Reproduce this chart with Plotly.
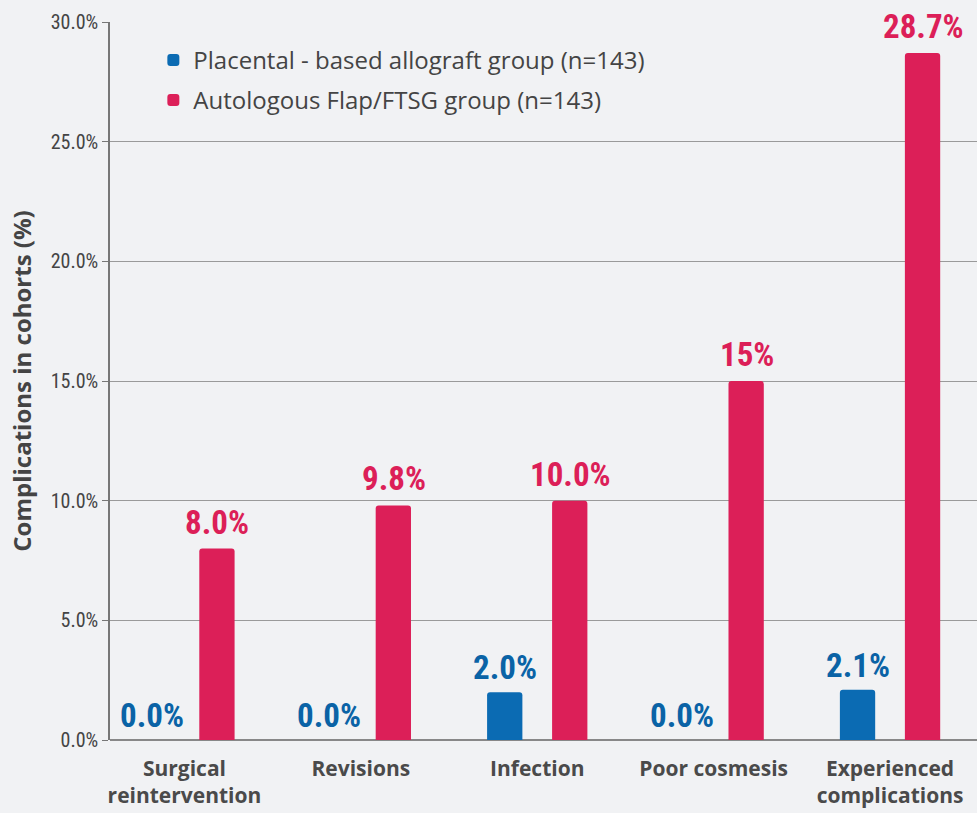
import plotly.graph_objects as go

categories = ["Surgical<br>reintervention", "Revisions", "Infection", "Poor cosmesis", "Experienced<br>complications"]
placental = [0.0, 0.0, 2.0, 0.0, 2.1]
autologous = [8.0, 9.8, 10.0, 15.0, 28.7]
placental_labels = ["0.0%", "0.0%", "2.0%", "0.0%", "2.1%"]
autologous_labels = ["8.0%", "9.8%", "10.0%", "15%", "28.7%"]
tick_vals = [0, 5, 10, 15, 20, 25, 30]
tick_text = ["0.0%", "5.0%", "10.0%", "15.0%", "20.0%", "25.0%", "30.0%"]

BG = "#f1f2f4"
BLUE = "#0b6bb3"
RED = "#dc1f58"
BLUE_TXT = "#0a63a6"
RED_TXT = "#dc1f58"
NARROW = "Liberation Sans Narrow, Roboto Condensed, Roboto, sans-serif"

xs = list(range(len(categories)))

fig = go.Figure()
fig.add_trace(go.Bar(x=xs, y=placental, name="Placental - based allograft group (n=143)",
                     legendgroup="a",
                     marker=dict(color=BLUE, cornerradius=3, line=dict(width=0))))
fig.add_trace(go.Bar(x=xs, y=autologous, name="Autologous Flap/FTSG group (n=143)",
                     legendgroup="b",
                     marker=dict(color=RED, cornerradius=3, line=dict(width=0))))

annotations = []
for i, (v, t) in enumerate(zip(placental, placental_labels)):
    annotations.append(dict(x=xs[i], y=v, text="<b>%s</b>" % t, showarrow=False, xshift=-32,
                            yanchor="bottom", yshift=4, font=dict(family=NARROW, size=33, color=BLUE_TXT),
                            bgcolor=BG, borderpad=0))
for i, (v, t) in enumerate(zip(autologous, autologous_labels)):
    annotations.append(dict(x=xs[i], y=v, text="<b>%s</b>" % t, showarrow=False, xshift=33,
                            yanchor="bottom", yshift=6, font=dict(family=NARROW, size=33, color=RED_TXT),
                            bgcolor=BG, borderpad=0))

fig.update_layout(
    width=977, height=813,
    paper_bgcolor=BG, plot_bgcolor=BG,
    margin=dict(l=110, r=0, t=22, b=73),
    barmode="group", bargap=0.263, bargroupgap=0.457,
    font=dict(family="Open Sans, sans-serif", color="#444444"),
    legend=dict(x=0.05, y=0.978, xanchor="left", yanchor="top", bgcolor="rgba(0,0,0,0)",
                font=dict(size=24, color="#444444"), tracegroupgap=6, itemwidth=30),
    annotations=annotations,
    showlegend=True,
)
fig.update_xaxes(range=[-0.422, 4.493], tickvals=xs, ticktext=["<b>%s</b>" % c for c in categories],
                 tickfont=dict(size=21, color="#4a4a4a"), showgrid=False, zeroline=False,
                 showline=False, ticks="", ticklabelstandoff=14, fixedrange=True)
fig.update_yaxes(range=[0, 30], tickvals=tick_vals, ticktext=tick_text,
                 tickfont=dict(family=NARROW, size=20, color="#444444"),
                 showgrid=True, gridcolor="#9a9a9a", gridwidth=1,
                 showline=True, linecolor="#777777", linewidth=1.5,
                 ticks="outside", ticklen=6, tickcolor="#777777",
                 zeroline=True, zerolinecolor="#888888", zerolinewidth=1.5,
                 title=dict(text="<b>Complications in cohorts (%)</b>", font=dict(size=24, color="#444444"), standoff=12))

fig.write_html("out.html")
